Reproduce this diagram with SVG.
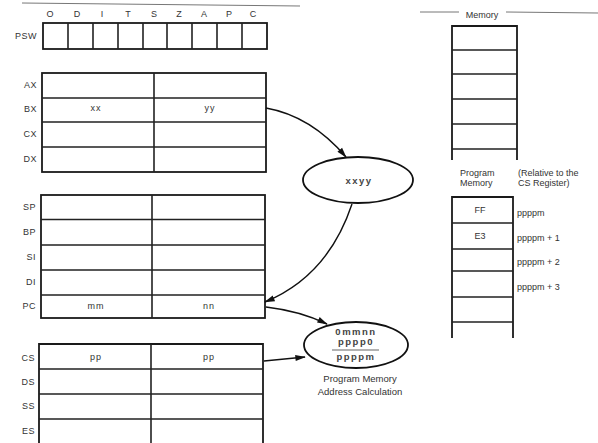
<svg xmlns="http://www.w3.org/2000/svg" width="598" height="443" viewBox="0 0 598 443">
<style>
text{font-family:"Liberation Sans",Arial,sans-serif;fill:#333;font-size:9px}
.lbl{text-anchor:end;letter-spacing:0.5px}
.c{text-anchor:middle}
.v{letter-spacing:1px}
.e{font-size:9.5px;font-weight:bold;letter-spacing:1.5px;fill:#444}
.box{fill:none;stroke:#1a1a1a;stroke-width:1.8}
.ln{stroke:#222;stroke-width:1.6;fill:none}
.rule{stroke:#777;stroke-width:1;fill:none}
.conn{stroke:#111;stroke-width:1.4;fill:none}
.ell{fill:none;stroke:#111;stroke-width:1.8}
</style>
<defs>
<marker id="ah" viewBox="0 0 12 8" refX="11" refY="4" markerWidth="11" markerHeight="7" orient="auto" markerUnits="userSpaceOnUse">
<path d="M0,0.5 L12,4 L0,7.5 z" fill="#111"/>
</marker>
</defs>
<rect width="598" height="443" fill="#fff"/>
<g id="rules">
<line class="rule" x1="22" y1="3" x2="300" y2="6"/>
<line class="rule" x1="420" y1="12" x2="459" y2="12"/>
<line class="rule" x1="506" y1="12" x2="598" y2="13"/>
</g>
<g id="psw">
<text x="50" y="17" class="c">O</text><text x="77" y="17" class="c">D</text><text x="102" y="17" class="c">I</text>
<text x="128" y="17" class="c">T</text><text x="154" y="17" class="c">S</text><text x="179" y="17" class="c">Z</text>
<text x="204" y="17" class="c">A</text><text x="229" y="17" class="c">P</text><text x="253" y="17" class="c">C</text>
<text x="37" y="39" class="lbl">PSW</text>
<rect class="box" x="43" y="23" width="224" height="26"/>
<path class="ln" d="M68,23V49M93,23V49M118,23V49M143,23V49M167,23V49M192,23V49M217,23V49M242,23V49"/>
</g>
<g id="general-registers">
<rect class="box" x="42" y="73" width="224" height="99"/>
<path class="ln" d="M42,98H266M42,122H266M42,147H266M154,73V172"/>
<text x="37" y="88" class="lbl">AX</text>
<text x="37" y="112" class="lbl">BX</text>
<text x="37" y="137" class="lbl">CX</text>
<text x="37" y="162" class="lbl">DX</text>
<text x="96" y="111" class="c v">xx</text>
<text x="210" y="111" class="c v">yy</text>
</g>
<g id="pointer-registers">
<rect class="box" x="41" y="195" width="224" height="123"/>
<path class="ln" d="M41,219.5H265M41,245H265M41,270H265M41,295H265M152,195V318"/>
<text x="36" y="210" class="lbl">SP</text>
<text x="36" y="235" class="lbl">BP</text>
<text x="36" y="260" class="lbl">SI</text>
<text x="36" y="285" class="lbl">DI</text>
<text x="36" y="309" class="lbl">PC</text>
<text x="96" y="309" class="c v">mm</text>
<text x="209" y="309" class="c v">nn</text>
</g>
<g id="segment-registers">
<path class="box" d="M39,446V344H263V446"/>
<path class="ln" d="M39,369H263M39,394H263M39,419H263M151,344V446"/>
<text x="35" y="361" class="lbl">CS</text>
<text x="35" y="385" class="lbl">DS</text>
<text x="35" y="409" class="lbl">SS</text>
<text x="35" y="434" class="lbl">ES</text>
<text x="96" y="360" class="c v">pp</text>
<text x="209" y="360" class="c v">pp</text>
</g>
<g id="bx-value">
<ellipse class="ell" cx="358" cy="180" rx="55" ry="23"/>
<text x="359" y="184" class="c e">xxyy</text>
</g>
<g id="address-calculation">
<ellipse class="ell" cx="356" cy="345" rx="52" ry="23"/>
<text x="356" y="335" class="c e">0mmnn</text>
<text x="356" y="345" class="c e">pppp0</text>
<line x1="332" y1="350" x2="379" y2="350" stroke="#999" stroke-width="1.5"/>
<text x="356" y="360" class="c e">ppppm</text>
<text x="360" y="382" class="c" style="font-size:9.5px">Program Memory</text>
<text x="360" y="395" class="c" style="font-size:9.5px">Address Calculation</text>
</g>
<g id="memory">
<text x="482" y="18" class="c">Memory</text>
<path class="box" d="M452,160V26H517V160"/>
<path class="ln" d="M452,50H517M452,74H517M452,99H517M452,124H517M452,149H517"/>
</g>
<g id="program-memory">
<text x="460" y="176">Program</text>
<text x="518" y="176">(Relative to the</text>
<text x="460" y="186">Memory</text>
<text x="518" y="186">CS Register)</text>
<path class="box" d="M452,338V197H513V338"/>
<path class="ln" d="M452,223H513M452,249H513M452,271H513M452,297H513M452,322H513"/>
<text x="480" y="213" class="c">FF</text>
<text x="480" y="239" class="c">E3</text>
<text x="517" y="216">ppppm</text>
<text x="517" y="241">ppppm + 1</text>
<text x="517" y="265">ppppm + 2</text>
<text x="517" y="290">ppppm + 3</text>
</g>
<g id="connectors">
<path class="conn" d="M266,108 Q311,116 346,157" marker-end="url(#ah)"/>
<path class="conn" d="M352,204 Q328,276 265,302" marker-end="url(#ah)"/>
<path class="conn" d="M266,307 Q300,311 327,324" marker-end="url(#ah)"/>
<path class="conn" d="M264,361 Q285,359 305,357" marker-end="url(#ah)"/>
</g>
</svg>
